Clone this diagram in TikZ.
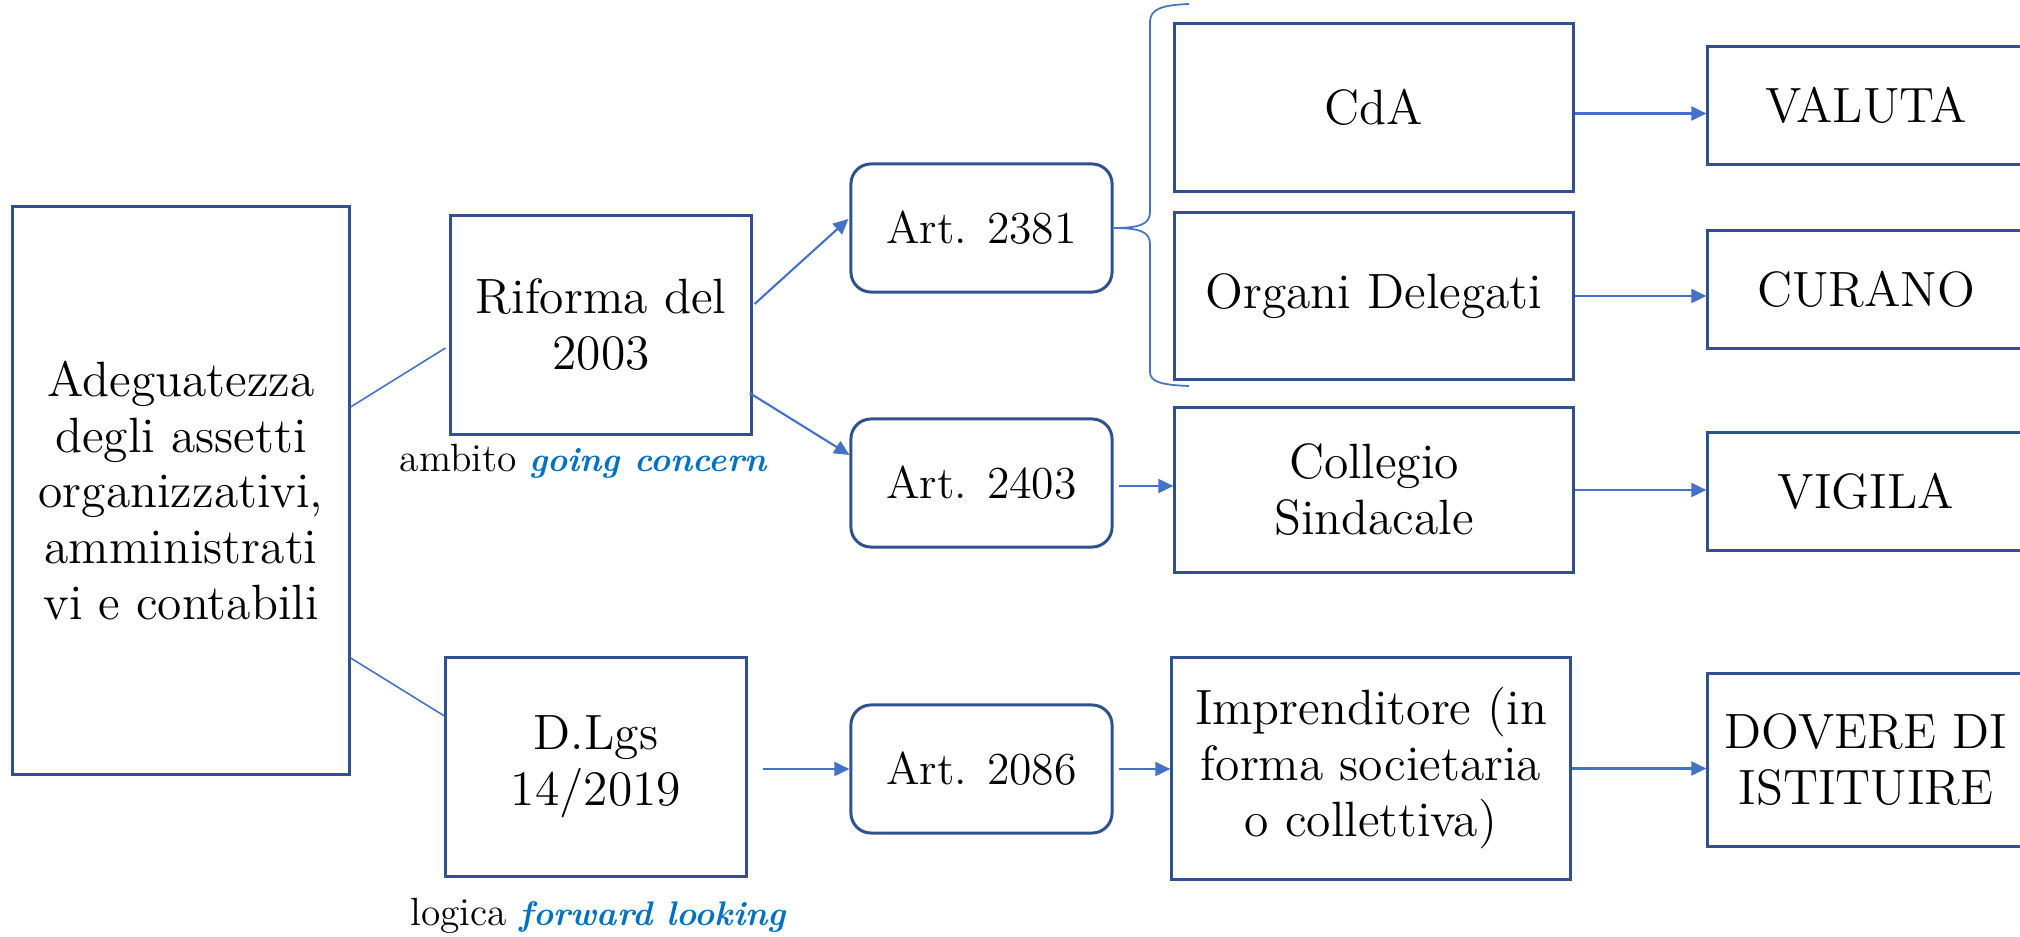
\documentclass[tikz,border=0pt]{standalone}
\usetikzlibrary{arrows.meta,calc}
\definecolor{boxblue}{HTML}{2F528F}
\definecolor{arrblue}{HTML}{4472C4}
\definecolor{txtblue}{HTML}{0070C0}
\newcommand{\hilite}[1]{{\fontsize{9.7}{12}\selectfont\color{txtblue}\bfseries\itshape #1}}
\begin{document}
\begin{tikzpicture}[x=0.01cm,y=-0.01cm,
  box/.style={draw=boxblue,line width=0.85pt,align=center,inner sep=0pt,font=\fontsize{14.1}{15.9}\selectfont},
  rbox/.style={box,rounded corners=0.2cm,minimum width=2.61cm,minimum height=1.28cm,font=\fontsize{13}{15.9}\selectfont},
  rightbox/.style={box,minimum width=3.16cm},
  arr/.style={draw=arrblue,line width=0.6pt,-{Triangle[length=4.3pt,width=4pt]}},
  thinline/.style={draw=arrblue,line width=0.45pt},
  lbl/.style={font=\fontsize{11.2}{13}\selectfont}]
\clip (0,0) rectangle (2020,937);
% nodes
\node[box,minimum width=3.36cm,minimum height=5.67cm] (main) at (181,490.5) {Adeguatezza\\degli assetti\\organizzativi,\\amministrati\\vi e contabili};
\node[box,minimum width=3.00cm,minimum height=2.18cm] (rif) at (601,325) {Riforma del\\2003};
\node[box,minimum width=3.00cm,minimum height=2.18cm] (dlgs) at (596,767) {D.Lgs\\14/2019};
\node[rbox] (a2381) at (981.5,228) {Art. 2381};
\node[rbox] (a2403) at (981.5,483) {Art. 2403};
\node[rbox] (a2086) at (981.5,769) {Art. 2086};
\node[box,minimum width=3.98cm,minimum height=1.67cm] (cda) at (1374,107.5) {CdA};
\node[box,minimum width=3.98cm,minimum height=1.66cm] (org) at (1374,296) {Organi Delegati};
\node[box,minimum width=3.98cm,minimum height=1.64cm] (col) at (1374,490) {Collegio\\Sindacale};
\node[box,minimum width=3.98cm,minimum height=2.21cm] (imp) at (1371,768.5) {Imprenditore (in\\forma societaria\\o collettiva)};
\node[rightbox,minimum height=1.17cm] (val) at (1866,105.5) {VALUTA};
\node[rightbox,minimum height=1.17cm] (cur) at (1866,289.5) {CURANO};
\node[rightbox,minimum height=1.17cm] (vig) at (1866,491.5) {VIGILA};
\node[rightbox,minimum height=1.72cm] (dov) at (1866,760) {DOVERE DI\\ISTITUIRE};
% labels
\node[lbl] (amb) at (583,461) {ambito \hilite{going concern}};
\node[lbl] (log) at (598,916) {logica \hilite{forward looking}};
% connectors
\draw[thinline] ($(main.east)+(0,-83.5)$) -- ($(rif.west)+(-4,23)$);
\draw[thinline] ($(main.east)+(0,167.5)$) -- ($(dlgs.west)+(0,-51)$);
\draw[arr] ($(rif.east)+(2,-21)$) -- ($(a2381.west)+(-1,-9)$);
\draw[arr] ($(rif.east)+(-3,68)$) -- ($(a2403.west)+(0,-28)$);
\draw[arr] ($(dlgs.east)+(15,2)$) -- (a2086.west);
\coordinate (s1) at ($(a2403.east)+(5,3)$);
\draw[arr] (s1) -- (s1 -| col.west);
\coordinate (s2) at ($(a2086.east)+(5,0)$);
\draw[arr] (s2) -- (s2 -| imp.west);
\coordinate (s3) at ($(cda.east)+(0,6)$);
\draw[arr] (s3) -- (s3 -| val.west);
\draw[arr] (org.east) -- (org.east -| cur.west);
\draw[arr] (col.east) -- (col.east -| vig.west);
\draw[arr] (imp.east) -- (imp.east -| dov.west);
% brace
\draw[arrblue,line width=0.5pt] (1189,4) .. controls (1162,5) and (1150,9) .. (1150,22) -- (1150,212) .. controls (1150,224) and (1140,228) .. (a2381.east) .. controls (1140,228) and (1150,232) .. (1150,244) -- (1150,372) .. controls (1150,382) and (1162,385) .. (1189,386);
\end{tikzpicture}
\end{document}
